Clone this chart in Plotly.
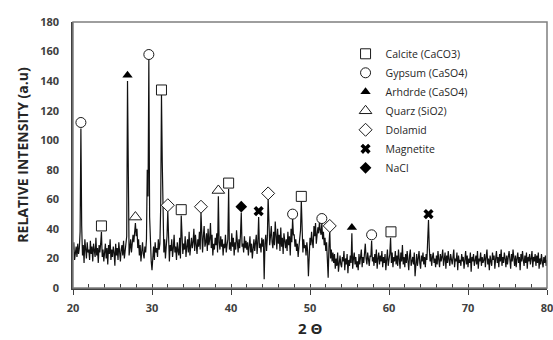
import numpy as np
import plotly.graph_objects as go

# ---- diffractogram: intensity every 0.1 deg 2-theta from 20.0 to 80.0 ----
TWO_THETA_START = 20.0
TWO_THETA_STEP = 0.1
intensity = [
    26, 31, 19, 24, 28, 21, 30, 23, 27, 38,      # 20
    108, 42, 22, 29, 17, 33, 25, 20, 31, 24,     # 21
    26, 19, 32, 23, 28, 18, 30, 25, 21, 34,      # 22
    22, 27, 17, 29, 24, 30, 38, 21, 26, 18,      # 23
    25, 30, 20, 27, 16, 29, 23, 33, 19, 26,      # 24
    21, 28, 24, 15, 30, 22, 27, 19, 31, 24,      # 25
    18, 26, 29, 22, 32, 20, 25, 28, 35, 140,     # 26
    30, 22, 27, 33, 24, 29, 36, 31, 38, 44,      # 27
    35, 40, 27, 33, 22, 29, 18, 26, 31, 23,      # 28
    20, 28, 24, 33, 80, 62, 155, 48, 26, 18,     # 29
    12, 22, 28, 19, 31, 24, 27, 21, 33, 26,      # 30
    30, 55, 131, 85, 40, 24, 33, 20, 28, 35,     # 31
    52, 30, 18, 29, 25, 33, 21, 27, 36, 24,      # 32
    28, 19, 31, 25, 22, 34, 20, 49, 27, 23,      # 33
    30, 26, 35, 21, 28, 33, 24, 38, 22, 29,      # 34
    34, 27, 31, 40, 25, 36, 29, 23, 33, 28,      # 35
    38, 26, 51, 30, 24, 35, 42, 28, 31, 37,      # 36
    25, 40, 29, 33, 44, 27, 36, 22, 30, 26,      # 37
    34, 29, 37, 24, 62, 31, 26, 35, 28, 33,      # 38
    22, 30, 27, 36, 24, 29, 33, 67, 26, 31,      # 39
    25, 37, 28, 34, 22, 31, 26, 39, 29, 24,      # 40
    33, 27, 36, 51, 28, 30, 24, 35, 27, 32,      # 41
    26, 31, 22, 29, 35, 24, 30, 20, 28, 33,      # 42
    25, 29, 36, 23, 31, 48, 27, 30, 24, 34,      # 43
    28, 33, 6, 30, 36, 25, 34, 61, 38, 29,       # 44
    35, 42, 31, 27, 38, 29, 45, 33, 26, 40,      # 45
    30, 36, 25, 41, 28, 34, 23, 37, 31, 27,      # 46
    33, 25, 38, 29, 35, 22, 40, 31, 47, 36,      # 47
    36, 28, 33, 25, 30, 21, 28, 35, 39, 59,      # 48
    30, 24, 33, 27, 29, 22, 31, 25, 8, 28,       # 49
    34, 29, 38, 31, 27, 42, 35, 44, 30, 36,      # 50
    41, 37, 45, 39, 36, 44, 33, 38, 29, 34,      # 51
    25, 31, 22, 7, 28, 39, 20, 26, 18, 24,       # 52
    17, 23, 13, 20, 15, 24, 11, 19, 22, 16,      # 53
    14, 21, 18, 25, 12, 20, 16, 23, 10, 19,      # 54
    15, 22, 17, 37, 13, 20, 24, 16, 21, 14,      # 55
    18, 12, 23, 16, 20, 26, 14, 21, 17, 25,      # 56
    30, 20, 16, 24, 19, 15, 22, 21, 32, 18,      # 57
    21, 15, 23, 17, 26, 13, 20, 24, 16, 22,      # 58
    18, 25, 14, 21, 17, 23, 12, 20, 26, 15,      # 59
    19, 23, 34, 17, 24, 14, 21, 18, 25, 16,      # 60
    22, 15, 26, 20, 13, 24, 18, 29, 16, 21,      # 61
    14, 23, 17, 25, 20, 12, 22, 26, 15, 19,      # 62
    21, 16, 24, 8, 19, 23, 15, 20, 25, 17,       # 63
    13, 22, 18, 24, 16, 21, 14, 23, 19, 33,      # 64
    46, 27, 18, 23, 15, 21, 24, 17, 20, 14,      # 65
    22, 16, 25, 19, 14, 23, 18, 21, 26, 15,      # 66
    20, 24, 13, 22, 17, 25, 19, 15, 23, 18,      # 67
    16, 21, 26, 14, 20, 18, 24, 12, 22, 17,      # 68
    19, 15, 23, 18, 21, 13, 20, 25, 16, 22,      # 69
    14, 20, 17, 24, 11, 21, 18, 23, 15, 19,      # 70
    22, 16, 25, 13, 20, 18, 24, 15, 21, 17,      # 71
    19, 23, 14, 21, 26, 16, 20, 12, 22, 18,      # 72
    15, 24, 19, 22, 13, 20, 25, 17, 21, 14,      # 73
    23, 18, 26, 15, 21, 17, 24, 20, 14, 22,      # 74
    16, 21, 25, 19, 13, 23, 18, 26, 20, 15,      # 75
    22, 14, 20, 24, 17, 21, 12, 23, 18, 25,      # 76
    19, 15, 22, 17, 24, 13, 21, 18, 23, 16,      # 77
    20, 25, 14, 21, 18, 23, 15, 22, 17, 24,      # 78
    13, 20, 16, 23, 18, 14, 21, 17, 22, 15,      # 79
    19,                                          # 80
]
two_theta = np.round(TWO_THETA_START + TWO_THETA_STEP * np.arange(len(intensity)), 2)

# ---- phase identification markers (peak position, marker height) ----
calcite_x = [23.6, 31.2, 33.7, 39.7, 48.9, 60.25]
calcite_y = [42, 134, 53, 71, 62, 38]
gypsum_x = [21.0, 29.6, 47.8, 51.5, 57.8]
gypsum_y = [112, 158, 50, 47, 36]
anhydrite_x = [26.9, 55.3]
anhydrite_y = [144, 41]
quartz_x = [27.9, 38.4]
quartz_y = [48, 66]
dolomite_x = [32.0, 36.2, 44.7, 52.5]
dolomite_y = [56, 55, 64, 42]
magnetite_x = [43.5, 65.0]
magnetite_y = [52, 50]
nacl_x = [41.3]
nacl_y = [55]

x_ticks = [20, 30, 40, 50, 60, 70, 80]
y_ticks = [0, 20, 40, 60, 80, 100, 120, 140, 160, 180]

fig = go.Figure()
fig.add_trace(go.Scatter(x=two_theta, y=intensity, mode="lines",
                         line=dict(color="#111111", width=1.2), showlegend=False,
                         hoverinfo="skip"))

phases = [
    ("Calcite (CaCO3)", calcite_x, calcite_y, "square", "white", 10),
    ("Gypsum (CaSO4)", gypsum_x, gypsum_y, "circle", "white", 10),
    ("Arhdrde (CaSO4)", anhydrite_x, anhydrite_y, "triangle-up", "black", 9),
    ("Quarz (SiO2)", quartz_x, quartz_y, "triangle-up", "white", 11),
    ("Dolamid", dolomite_x, dolomite_y, "diamond", "white", 10),
    ("Magnetite", magnetite_x, magnetite_y, "x", "black", 9),
    ("NaCl", nacl_x, nacl_y, "diamond", "black", 9),
]
for name, xs, ys, sym, fill, size in phases:
    line_w = 1 if fill == "white" else 0
    fig.add_trace(go.Scatter(
        x=xs, y=ys, mode="markers", name=name,
        marker=dict(symbol=sym, size=size, color=fill,
                    line=dict(color="#1a1a1a", width=line_w))))

# invisible overlay axis for the inward minor ticks
fig.add_trace(go.Scatter(x=[x_ticks[0]], y=[y_ticks[0]], xaxis="x2", mode="markers",
                         marker=dict(opacity=0), showlegend=False, hoverinfo="skip"))

tick_font = dict(family="Open Sans", size=11, color="#404040", weight="bold")
fig.update_layout(
    width=553, height=340,
    margin=dict(l=73, r=6, t=22, b=52),
    plot_bgcolor="white", paper_bgcolor="white",
    font=dict(family="Open Sans", color="#262626"),
    showlegend=True,
    legend=dict(x=0.575, y=0.935, xanchor="left", yanchor="top",
                bgcolor="rgba(0,0,0,0)", borderwidth=0,
                font=dict(family="Open Sans", size=10.5, color="#262626"),
                itemwidth=30, tracegroupgap=0),
    xaxis=dict(range=[20, 80], tickvals=x_ticks, ticks="outside", ticklen=5,
               tickwidth=1, tickcolor="#404040", automargin=False,
               showline=True, linecolor="#404040", linewidth=1.5,
               showgrid=False, zeroline=False, tickfont=tick_font,
               ticklabeloverflow="allow", ticklabelstandoff=4),
    xaxis2=dict(range=[20, 80], overlaying="x", side="bottom", dtick=2, tick0=20,
                ticks="inside", ticklen=4, tickwidth=1, tickcolor="#404040",
                showticklabels=False, showgrid=False, zeroline=False,
                showline=False, anchor="y", automargin=False),
    yaxis=dict(range=[0, 180], tickvals=y_ticks, ticks="", automargin=False,
               showline=True, linecolor="#404040", linewidth=1.5,
               showgrid=False, zeroline=False, tickfont=tick_font,
               ticklabelstandoff=10,
               title=dict(text="RELATIVE INTENSITY (a.u)",
                          font=dict(family="Open Sans", size=14,
                                    color="#262626", weight="bold"),
                          standoff=8)),
    annotations=[dict(text="2 Θ", xref="paper", yref="paper", x=0.5, y=0,
                      xanchor="center", yanchor="middle", yshift=-40,
                      showarrow=False, borderpad=0,
                      font=dict(family="Open Sans", size=15, color="#262626",
                                weight="bold"))],
    shapes=[dict(type="rect", xref="paper", yref="paper", x0=0, y0=0, x1=1, y1=1,
                 line=dict(color="#7f7f7f", width=1.5), layer="above")],
)

fig.write_html("out.html")
